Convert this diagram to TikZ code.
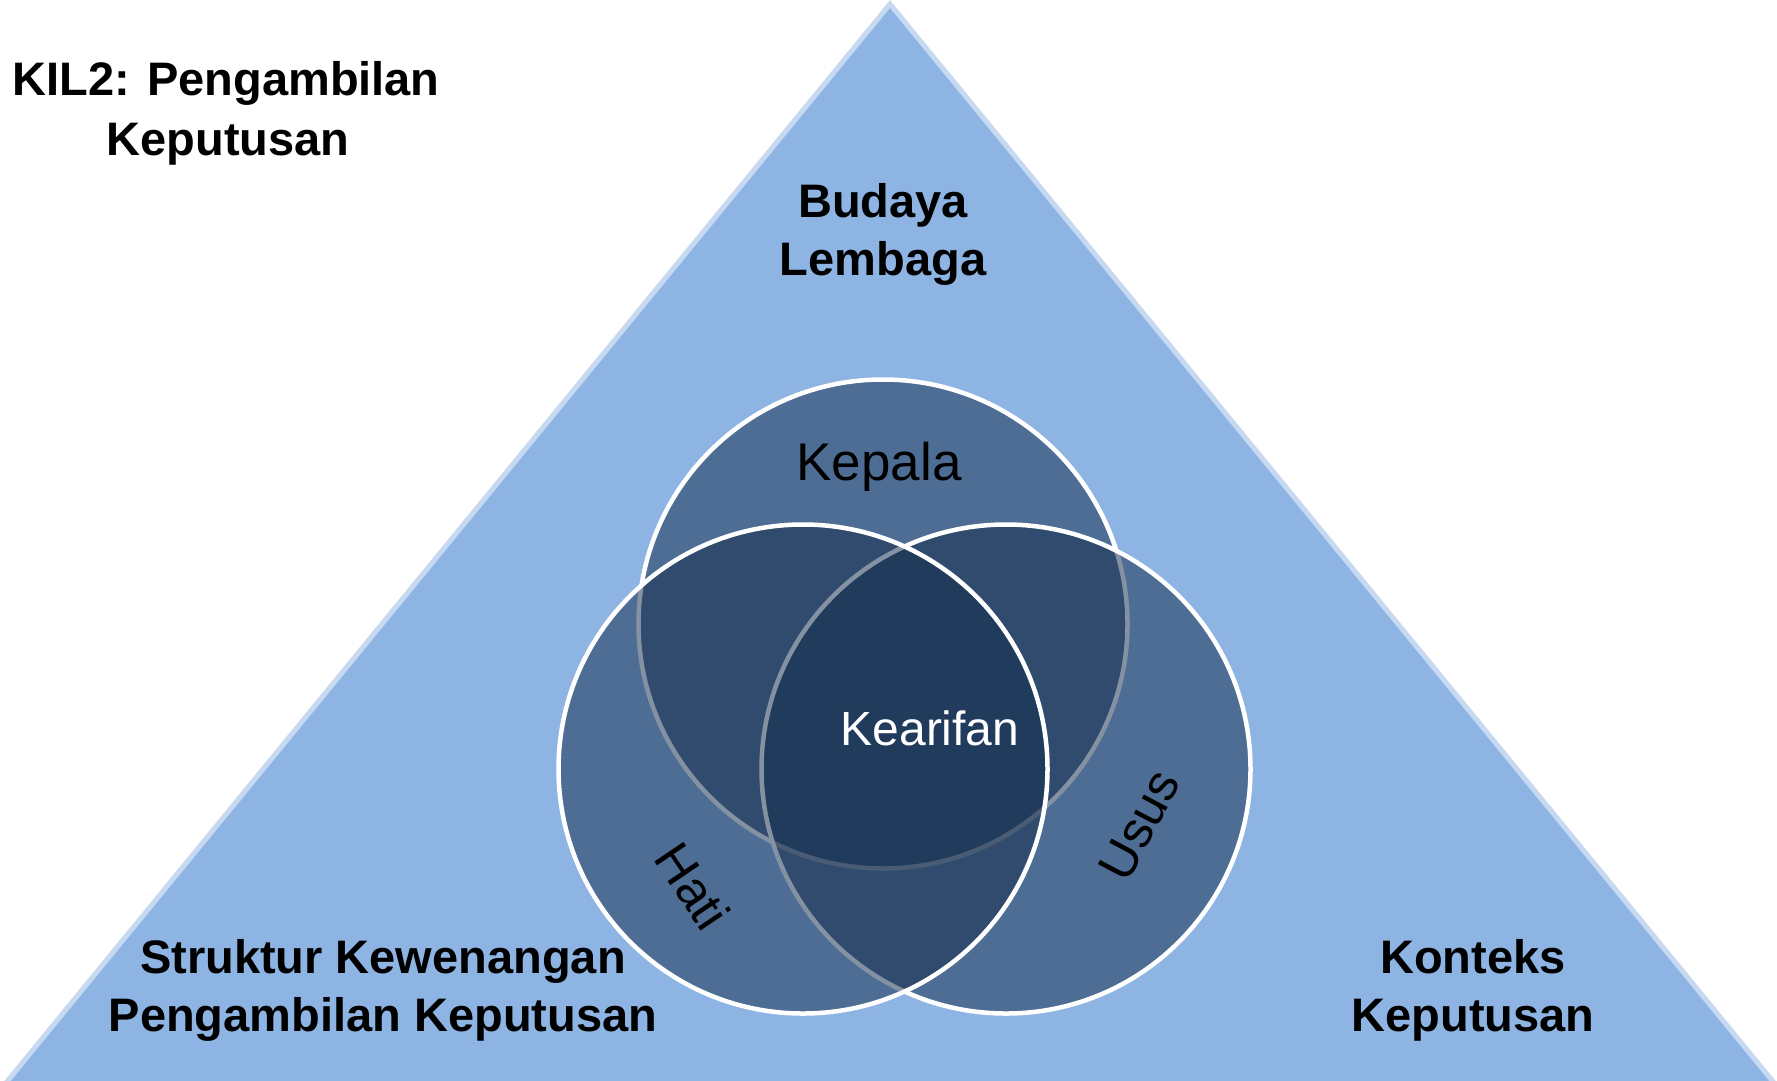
\documentclass[tikz,border=0pt]{standalone}
\usepackage{fontspec}
\setmainfont{Liberation Sans}
\definecolor{trifill}{HTML}{8EB4E3}
\definecolor{triedge}{HTML}{C6D9F1}
\definecolor{ringblue}{HTML}{152D4D}
\begin{document}
\begin{tikzpicture}[x=1pt,y=-1pt,
  heading/.style={inner sep=0pt, anchor=base, font=\fontsize{47}{59}\selectfont\bfseries},
  ring/.style={circle, inner sep=0pt, minimum size=489pt, fill=ringblue,
               fill opacity=0.52, draw=white, draw opacity=1, line width=4.5pt},
  ringlabel/.style={inner sep=0pt, text=black}]
  \useasboundingbox (0,0) rectangle (1777,1080);

  % background triangle
  \draw[fill=trifill, draw=triedge, line width=5pt, line join=miter]
    (890,4) -- (5,1084) -- (1775,1084) -- cycle;

  % the three overlapping circles (drawing order sets which outlines stay white)
  \node[ring] (kepala) at (883,624) {};
  \node[ring] (usus)   at (1006,769) {};
  \node[ring] (hati)   at (803,769) {};

  % title
  \node[heading] (title1) at (226,95)  {KIL2: Pengambilan};
  \node[heading] (title2) at (228,155) {Keputusan};

  % corner labels
  \node[heading] (budaya1) at (883,217) {Budaya};
  \node[heading] (budaya2) at (883,275) {Lembaga};
  \node[heading] (struktur1) at (383,973)  {Struktur Kewenangan};
  \node[heading] (struktur2) at (383,1031) {Pengambilan Keputusan};
  \node[heading] (konteks1) at (1473,973)  {Konteks};
  \node[heading] (konteks2) at (1473,1031) {Keputusan};

  % circle labels
  \node[ringlabel, anchor=base, font=\fontsize{53}{60}\selectfont] (lkepala) at (879,480) {Kepala};
  \node[ringlabel, text=white, anchor=base, font=\fontsize{48}{58}\selectfont] (lkearifan) at (930,745) {Kearifan};
  \node[ringlabel, rotate=-56, font=\fontsize{51}{58}\selectfont] (lhati) at (693,886) {Hati};
  \node[ringlabel, rotate=62, font=\fontsize{51}{58}\selectfont] (lusus) at (1139,825) {Usus};
\end{tikzpicture}
\end{document}
